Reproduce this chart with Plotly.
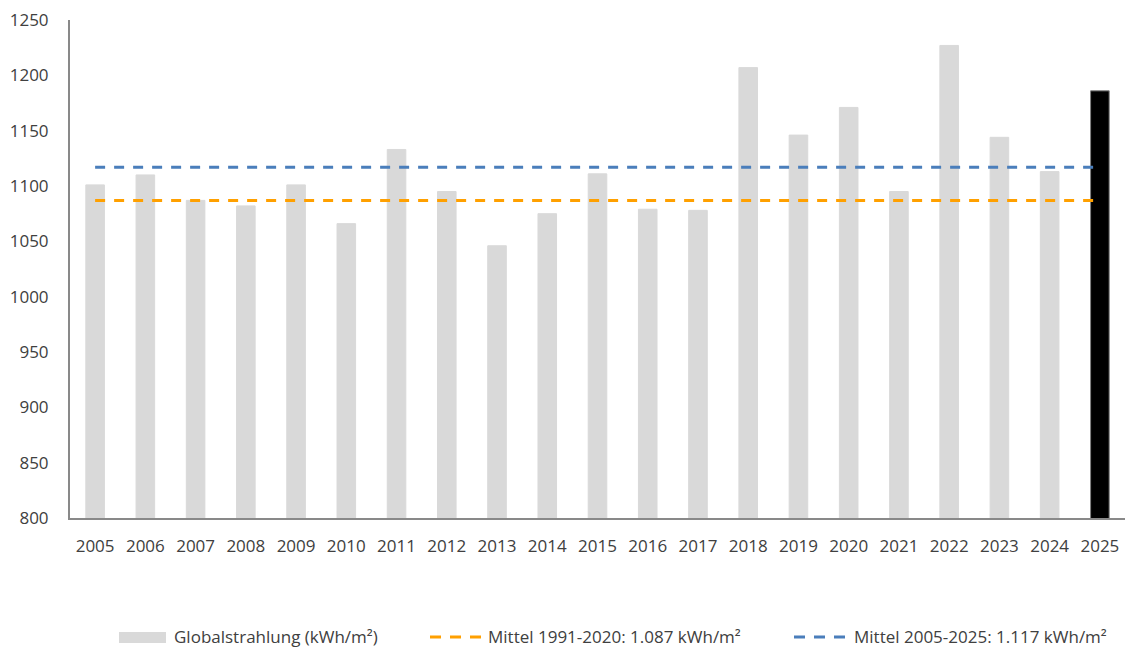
import plotly.graph_objects as go

years = [str(y) for y in range(2005, 2026)]
values = [1101, 1110, 1087, 1082, 1101, 1066, 1133, 1095, 1046, 1075, 1111,
          1079, 1078, 1207, 1146, 1171, 1095, 1227, 1144, 1113, 1186]
mean_1991_2020 = 1087
mean_2005_2025 = 1117
bar_colors = ["#d9d9d9"] * 20 + ["#000000"]
bar_lines = ["#d9d9d9"] * 20 + ["#7f7f7f"]
legend_labels = ["Globalstrahlung (kWh/m²)",
                 "Mittel 1991-2020: 1.087 kWh/m²",
                 "Mittel 2005-2025: 1.117 kWh/m²"]

W, H = 1126, 648
L, R, T, B = 70, 1, 20, 130
PW, PH = W - L - R, H - T - B


def px(x):
    return (x - L) / PW


def py(y):
    return (H - B - y) / PH


fig = go.Figure()
fig.add_trace(go.Bar(
    x=years, y=values, name=legend_labels[0],
    marker=dict(color=bar_colors, line=dict(color=bar_lines, width=1)),
    width=0.37,
))
fig.add_trace(go.Scatter(
    x=years, y=[mean_1991_2020] * len(years), mode="lines",
    name=legend_labels[1],
    line=dict(color="#ffa000", width=3, dash="10px,9px"),
))
fig.add_trace(go.Scatter(
    x=years, y=[mean_2005_2025] * len(years), mode="lines",
    name=legend_labels[2],
    line=dict(color="#4a7ebb", width=3, dash="10px,9px"),
))

font_family = "Open Sans, Liberation Sans, sans-serif"
text_color = "#404040"
ly = 637

shapes = [
    dict(type="rect", xref="paper", yref="paper",
         x0=px(119), x1=px(166), y0=py(643), y1=py(632),
         fillcolor="#d9d9d9", line=dict(width=0)),
    dict(type="line", xref="paper", yref="paper",
         x0=px(430), x1=px(482), y0=py(ly), y1=py(ly),
         line=dict(color="#ffa000", width=3, dash="11px,9px")),
    dict(type="line", xref="paper", yref="paper",
         x0=px(794), x1=px(846), y0=py(ly), y1=py(ly),
         line=dict(color="#4a7ebb", width=3, dash="11px,9px")),
]
annotations = [
    dict(text=legend_labels[0], xref="paper", yref="paper", x=px(172), y=py(ly - 1),
         xanchor="left", yanchor="middle", showarrow=False),
    dict(text=legend_labels[1], xref="paper", yref="paper", x=px(486), y=py(ly - 1),
         xanchor="left", yanchor="middle", showarrow=False),
    dict(text=legend_labels[2], xref="paper", yref="paper", x=px(852), y=py(ly - 1),
         xanchor="left", yanchor="middle", showarrow=False),
]

fig.update_layout(
    width=W, height=H,
    margin=dict(l=L, r=R, t=T, b=B),
    plot_bgcolor="white", paper_bgcolor="white",
    font=dict(family=font_family, size=17, color=text_color),
    showlegend=False,
    shapes=shapes,
    annotations=annotations,
)
fig.update_xaxes(
    type="category", showline=True, linecolor="#898989", linewidth=2,
    showgrid=False, ticks="", ticklabelstandoff=12, automargin=False,
)
fig.update_yaxes(
    range=[800, 1250], dtick=50, showline=True, linecolor="#898989", linewidth=2,
    showgrid=False, ticks="", zeroline=False, ticklabelstandoff=16, automargin=False,
)

fig.write_html(
    "out.html",
    config={"displayModeBar": False},
    post_script="document.body.style.margin='0';document.body.style.overflow='hidden';",
)
